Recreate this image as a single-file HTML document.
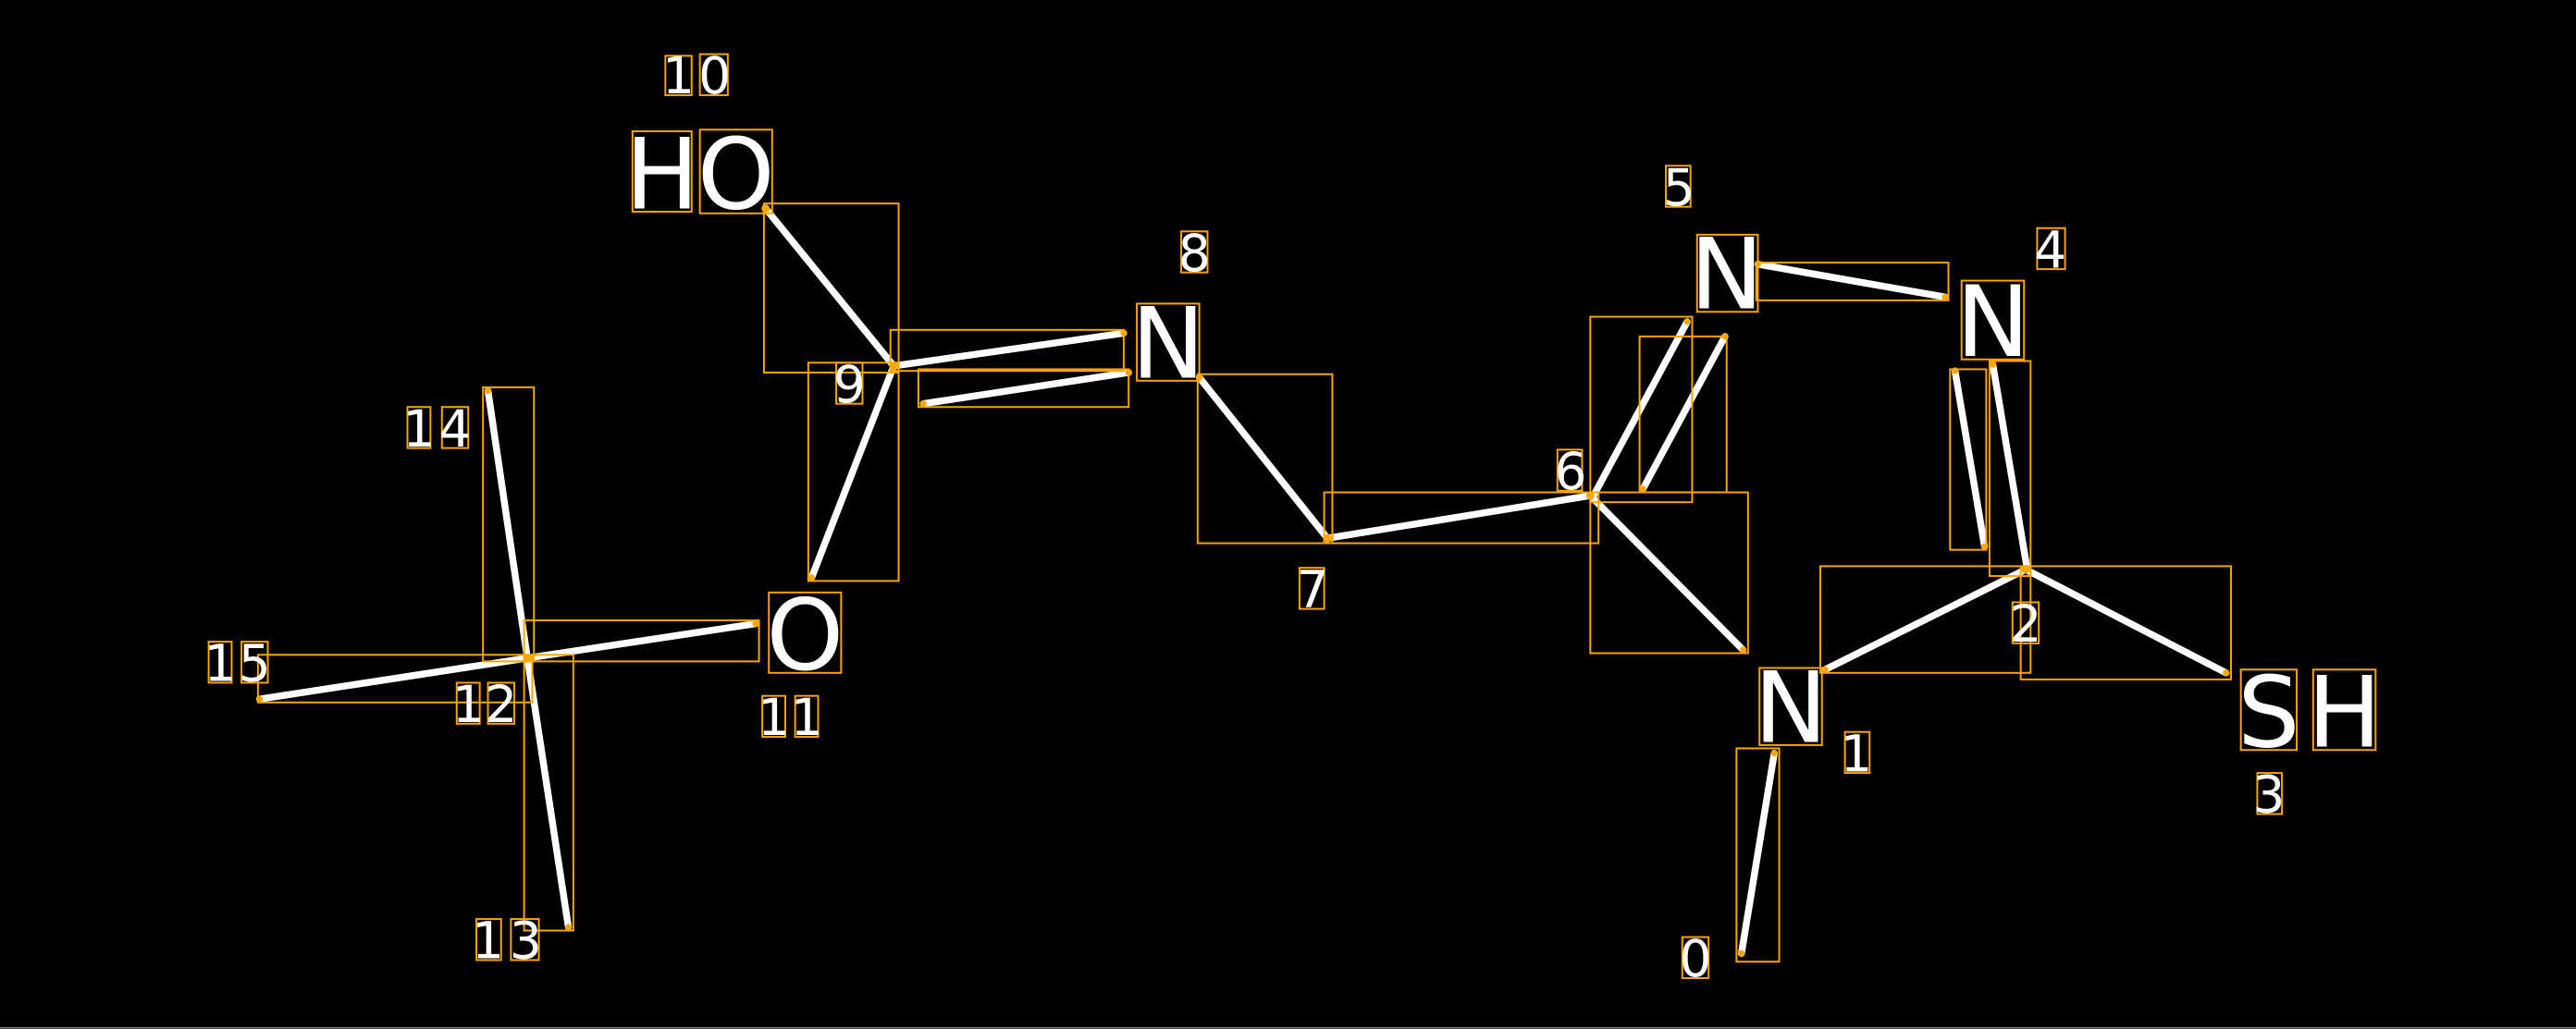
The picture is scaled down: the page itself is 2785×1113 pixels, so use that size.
<!DOCTYPE html>
<html><head><meta charset="utf-8"><style>
html,body{margin:0;padding:0;background:#000;width:2785px;height:1113px;overflow:hidden}
svg{display:block}
text{font-family:"DejaVu Sans","Liberation Sans",sans-serif;fill:#fff}
</style></head><body>
<svg width="2785" height="1113" viewBox="0 0 1568 627" preserveAspectRatio="none" xmlns="http://www.w3.org/2000/svg">
<rect x="0" y="0" width="1568" height="627" fill="#000"/>
<line x1="0" y1="626.3" x2="1568" y2="626.3" stroke="#888" stroke-width="0.8"/>
<g stroke="#fff" stroke-width="4.2" stroke-linecap="round">
<line x1="297" y1="238" x2="321" y2="401"/>
<line x1="321" y1="401" x2="346" y2="565"/>
<line x1="158" y1="426" x2="321" y2="401"/>
<line x1="321" y1="401" x2="460" y2="380"/>
<line x1="466" y1="127" x2="544" y2="223"/>
<line x1="544" y1="223" x2="494" y2="352"/>
<line x1="544" y1="223" x2="684" y2="203"/>
<line x1="562" y1="246" x2="687" y2="227"/>
<line x1="730" y1="230" x2="808" y2="328"/>
<line x1="808" y1="328" x2="968" y2="302"/>
<line x1="970" y1="302" x2="1027" y2="196"/>
<line x1="1000" y1="298" x2="1050" y2="205"/>
<line x1="970" y1="304" x2="1061" y2="396"/>
<line x1="1070" y1="161" x2="1184" y2="181"/>
<line x1="1213" y1="222" x2="1234" y2="347"/>
<line x1="1190" y1="226" x2="1208" y2="333"/>
<line x1="1233" y1="347" x2="1111" y2="408"/>
<line x1="1233" y1="347" x2="1355" y2="410"/>
<line x1="1080" y1="459" x2="1060" y2="581"/>
</g>
<g fill="#ffa500">
<circle cx="297" cy="238" r="2"/><circle cx="346" cy="565" r="2"/><circle cx="158" cy="426" r="2"/><circle cx="460" cy="380" r="2"/><circle cx="321" cy="401" r="2.5"/>
<circle cx="466" cy="127" r="2.5"/><circle cx="544" cy="223" r="2.5"/><circle cx="494" cy="352" r="2"/><circle cx="684" cy="203" r="2"/><circle cx="562" cy="246" r="2"/><circle cx="687" cy="227" r="2"/>
<circle cx="730" cy="230" r="2"/><circle cx="808" cy="328" r="2.5"/><circle cx="968" cy="302" r="2.5"/><circle cx="1027" cy="196" r="2"/><circle cx="1000" cy="298" r="2"/><circle cx="1050" cy="205" r="2"/><circle cx="1061" cy="396" r="2"/>
<circle cx="1070" cy="161" r="2"/><circle cx="1184" cy="181" r="2"/><circle cx="1213" cy="222" r="2"/><circle cx="1190" cy="226" r="2"/><circle cx="1208" cy="333" r="2"/><circle cx="1233" cy="347" r="2.5"/>
<circle cx="1111" cy="408" r="2"/><circle cx="1355" cy="410" r="2"/><circle cx="1080" cy="459" r="2"/><circle cx="1060" cy="581" r="2"/>
</g>
<g fill="none" stroke="#ffa500" stroke-width="1.1">
<rect x="294" y="236" width="31" height="167"/>
<rect x="319" y="399" width="30" height="168"/>
<rect x="157" y="399" width="167" height="29"/>
<rect x="319" y="378" width="143" height="25"/>
<rect x="465" y="124" width="82" height="103"/>
<rect x="492" y="221" width="55" height="133"/>
<rect x="542" y="201" width="142" height="25"/>
<rect x="559" y="225" width="128" height="23"/>
<rect x="729" y="228" width="82" height="103"/>
<rect x="806" y="300" width="167" height="31"/>
<rect x="968" y="193" width="62" height="113"/>
<rect x="998" y="205" width="53" height="95"/>
<rect x="968" y="300" width="96" height="98"/>
<rect x="1069" y="160" width="117" height="23"/>
<rect x="1211" y="220" width="25" height="131"/>
<rect x="1187" y="225" width="22" height="110"/>
<rect x="1108" y="345" width="128" height="65"/>
<rect x="1230" y="345" width="128" height="69"/>
<rect x="1057" y="456" width="26" height="130"/>
<rect x="385" y="80" width="36" height="49"/>
<rect x="426" y="79" width="44" height="51"/>
<rect x="468" y="361" width="44" height="49"/>
<rect x="692" y="185" width="38" height="47"/>
<rect x="1033" y="143" width="37" height="47"/>
<rect x="1194" y="171" width="38" height="48"/>
<rect x="1071" y="407" width="38" height="47"/>
<rect x="1364" y="408" width="34" height="49"/>
<rect x="1408" y="408" width="38" height="49"/>
<rect x="405" y="34" width="16" height="24"/><rect x="426" y="33" width="17" height="25"/>
<rect x="719" y="141" width="16" height="25"/>
<rect x="509" y="221" width="16" height="25"/>
<rect x="248" y="248" width="14" height="25"/><rect x="269" y="248" width="16" height="25"/>
<rect x="127" y="391" width="14" height="25"/><rect x="147" y="391" width="16" height="25"/>
<rect x="278" y="416" width="14" height="25"/><rect x="297" y="416" width="16" height="25"/>
<rect x="290" y="560" width="15" height="25"/><rect x="311" y="560" width="17" height="25"/>
<rect x="464" y="424" width="14" height="25"/><rect x="484" y="424" width="14" height="25"/>
<rect x="791" y="346" width="15" height="25"/>
<rect x="948" y="274" width="15" height="25"/>
<rect x="1014" y="101" width="15" height="25"/>
<rect x="1240" y="139" width="17" height="25"/>
<rect x="1225" y="367" width="16" height="25"/>
<rect x="1123" y="446" width="15" height="25"/>
<rect x="1374" y="471" width="15" height="25"/>
<rect x="1024" y="571" width="16" height="25"/>
</g>
<g font-size="60" text-anchor="middle">
<text x="403" y="127">H</text>
<text x="448" y="127">O</text>
<text x="490" y="408">O</text>
<text x="711" y="230">N</text>
<text x="1051" y="188">N</text>
<text x="1213" y="217">N</text>
<text x="1090" y="452">N</text>
<text x="1381" y="455">S</text>
<text x="1427" y="455">H</text>
</g>
<g font-size="31" text-anchor="middle">
<text x="413" y="57">1</text><text x="435" y="57">0</text>
<text x="727" y="165">8</text>
<text x="517" y="245">9</text>
<text x="255" y="272">1</text><text x="277" y="272">4</text>
<text x="134" y="415">1</text><text x="155" y="415">5</text>
<text x="285" y="440">1</text><text x="305" y="440">2</text>
<text x="297" y="584">1</text><text x="320" y="584">3</text>
<text x="471" y="448">1</text><text x="491" y="448">1</text>
<text x="799" y="370">7</text>
<text x="956" y="298">6</text>
<text x="1022" y="125">5</text>
<text x="1248" y="163">4</text>
<text x="1233" y="391">2</text>
<text x="1130" y="470">1</text>
<text x="1381" y="495">3</text>
<text x="1032" y="595">0</text>
</g>
</svg>
</body></html>
